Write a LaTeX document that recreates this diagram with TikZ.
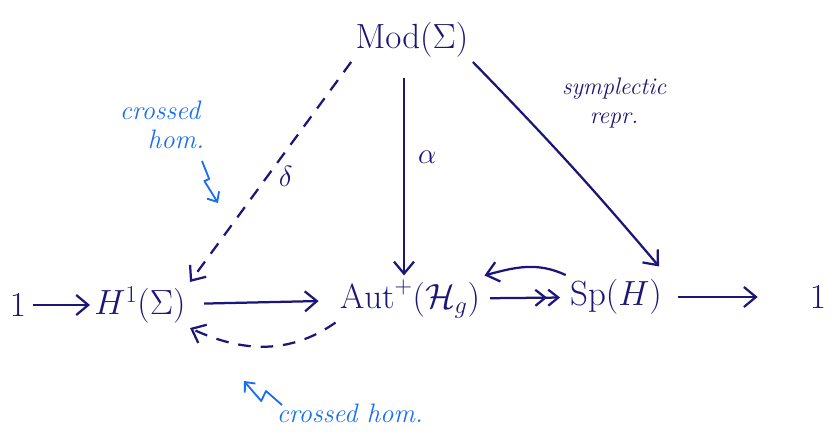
\documentclass[tikz,border=0pt]{standalone}
\usepackage{amsmath,amssymb}
\usepackage{xcolor}
\usepackage{tikz}
\usetikzlibrary{arrows.meta,positioning,calc}
\definecolor{inkblue}{RGB}{28,22,120}
\definecolor{noteblue}{RGB}{25,110,240}
\tikzset{
  objnode/.style={text=inkblue,inner sep=3pt,font=\fontsize{24}{28}\selectfont},
  labelnode/.style={text=inkblue,font=\fontsize{20}{24}\selectfont},
  notenode/.style={text=noteblue,align=center,font=\fontsize{19}{21}\selectfont\itshape},
  maparrow/.style={-{Straight Barb[length=3mm,width=5mm]},line width=1.6pt,draw=inkblue},
  dasharrow/.style={maparrow,dash pattern=on 9pt off 7pt},
  ontoarrow/.style={-{Straight Barb[length=2.5mm,width=4mm]Straight Barb[length=2.5mm,width=4mm]},line width=1.6pt,draw=inkblue},
  notearrow/.style={-{Straight Barb[length=2mm,width=3.5mm]},line width=1.3pt,draw=noteblue,line join=round}
}
\begin{document}
\begin{tikzpicture}
  \useasboundingbox (0,0) rectangle (20.8,10.875);
  % objects
  \node[objnode] (mod) at (10.3,9.875) {$\mathrm{Mod}(\Sigma)$};
  \node[objnode] (one) at (0.45,3.25) {$1$};
  \node[objnode] (hone) at (3.5,3.25) {$H^1(\Sigma)$};
  \node[objnode] (aut) at (10.25,3.4) {$\mathrm{Aut}^+(\mathcal{H}_g)$};
  \node[objnode] (sp) at (15.4,3.45) {$\mathrm{Sp}(H)$};
  \node[objnode] (onetwo) at (20.45,3.45) {$1$};
  % exact sequence
  \draw[maparrow,shorten <=2pt] (one) -- (hone);
  \draw[maparrow,shorten <=10pt,shorten >=12pt] (hone) -- (aut);
  \draw[ontoarrow,shorten <=4pt,shorten >=4pt] (aut) -- (sp);
  \draw[maparrow,shorten <=8pt,shorten >=34pt] (sp) -- (onetwo);
  % maps out of Mod
  \draw[dasharrow] (mod.south west) -- (hone.north east) node[labelnode,pos=0.52,right=4pt] (delta) {$\delta$};
  \draw[maparrow] (mod.south) ++(-0.2,-0.4) coordinate (modfoot) -- (modfoot |- aut.north) node[labelnode,pos=0.4,right=6pt] (alpha) {$\alpha$};
  \draw[maparrow,shorten >=8pt] (mod.south east) to[bend left=2] (sp.north east);
  \node[labelnode,font=\fontsize{17}{20}\selectfont\itshape,align=center] (symp) at (15.35,8.3) {symplectic\\repr.};
  % splittings
  \draw[maparrow] (sp.north west) to[out=155,in=15] (aut.north east);
  \draw[dasharrow] (aut.south west) to[out=215,in=-25] (hone.south east);
  % notes
  \node[notenode] (crosstop) at (4.0,7.75) {crossed\\\hspace*{1.2em}hom.};
  \coordinate (ztopa) at (5.05,6.85);
  \coordinate (ztopb) at (5.45,5.8);
  \draw[notearrow] (ztopa) -- ++(0.18,-0.45) -- ++(-0.12,-0.05) -- (ztopb);
  \node[notenode,anchor=west] (crossbot) at (6.8,0.55) {crossed hom.};
  \coordinate (zbota) at (7.05,0.75);
  \coordinate (zbotb) at (6.1,1.35);
  \draw[notearrow] (zbota) -- ++(-0.4,0.35) -- ++(-0.12,-0.25) -- (zbotb);
\end{tikzpicture}
\end{document}
